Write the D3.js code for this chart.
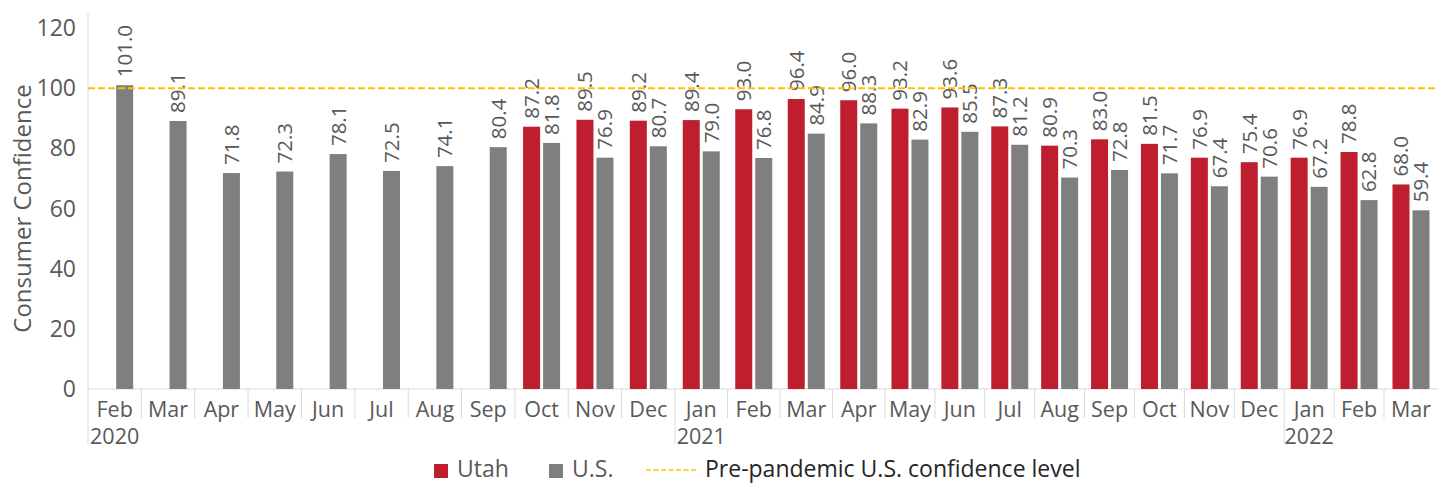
<!DOCTYPE html>
<html>
<head>
<meta charset="utf-8">
<script src="https://cdn.jsdelivr.net/npm/d3@7"></script>
<style>
  body { margin: 0; background: #fff; }
  text { font-family: "Open Sans", sans-serif; }
</style>
</head>
<body>
<div id="chart"></div>
<script>
const months = ["Feb","Mar","Apr","May","Jun","Jul","Aug","Sep","Oct","Nov","Dec",
                "Jan","Feb","Mar","Apr","May","Jun","Jul","Aug","Sep","Oct","Nov","Dec",
                "Jan","Feb","Mar"];
const years = [{i: 0, label: "2020"}, {i: 11, label: "2021"}, {i: 23, label: "2022"}];

const utah = [null, null, null, null, null, null, null, null,
              87.2, 89.5, 89.2, 89.4, 93.0, 96.4, 96.0, 93.2, 93.6, 87.3,
              80.9, 83.0, 81.5, 76.9, 75.4, 76.9, 78.8, 68.0];
const us = [101.0, 89.1, 71.8, 72.3, 78.1, 72.5, 74.1, 80.4, 81.8, 76.9, 80.7,
            79.0, 76.8, 84.9, 88.3, 82.9, 85.5, 81.2, 70.3, 72.8, 71.7, 67.4,
            70.6, 67.2, 62.8, 59.4];
const prePandemic = 100;
const yTicks = [0, 20, 40, 60, 80, 100, 120];

const width = 1448;
const height = 483;

const red = "#be1e2d";
const grey = "#7f7f7f";
const axisGrey = "#d9d9d9";
const textGrey = "#595959";

const svg = d3.select("#chart").append("svg")
  .attr("width", width).attr("height", height);

// category edges: the source chart's columns get a bit narrower towards the right
const x = d3.scaleLinear()
  .domain([0, 11, 15, 25, 26])
  .range([88, 675, 885, 1384, 1438]);
const mid = i => (x(i) + x(i + 1)) / 2;

const y = d3.scaleLinear().domain([0, 125]).range([389, 13]);

const barW = 17;

// y axis labels
svg.append("g").selectAll("text")
  .data(yTicks)
  .join("text")
  .attr("x", 76)
  .attr("y", d => y(d))
  .attr("dy", "0.35em")
  .attr("text-anchor", "end")
  .attr("fill", textGrey)
  .attr("font-size", 23)
  .text(d => d);

svg.append("text")
  .attr("transform", `translate(31, ${y(60)}) rotate(-90)`)
  .attr("text-anchor", "middle")
  .attr("fill", textGrey)
  .attr("font-size", 24)
  .text("Consumer Confidence");

// axis lines
svg.append("line")
  .attr("x1", x(0)).attr("x2", x(0))
  .attr("y1", y(125)).attr("y2", y(0))
  .attr("stroke", axisGrey);
svg.append("line")
  .attr("x1", x(0)).attr("x2", x(26))
  .attr("y1", y(0)).attr("y2", y(0))
  .attr("stroke", axisGrey);

// category separators, longer ones where a new year starts
const yearStarts = years.map(d => d.i);
svg.append("g").selectAll("line")
  .data(d3.range(0, 26))
  .join("line")
  .attr("x1", d => x(d)).attr("x2", d => x(d))
  .attr("y1", y(0))
  .attr("y2", d => yearStarts.includes(d) ? 444 : 418)
  .attr("stroke", axisGrey);

svg.append("g").selectAll("text")
  .data(months)
  .join("text")
  .attr("x", (d, i) => mid(i))
  .attr("y", 417)
  .attr("text-anchor", "middle")
  .attr("fill", textGrey)
  .attr("font-size", 21.5)
  .text(d => d);

svg.append("g").selectAll("text")
  .data(years)
  .join("text")
  .attr("x", d => mid(d.i))
  .attr("y", 444)
  .attr("text-anchor", "middle")
  .attr("fill", textGrey)
  .attr("font-size", 21.5)
  .text(d => d.label);

// bars
const rows = months.map((m, i) => ({i, utah: utah[i], us: us[i]}));

const series = [
  {key: "utah", color: red, offset: -10},
  {key: "us", color: grey, offset: 10}
];

series.forEach(s => {
  const pts = rows.filter(d => d[s.key] != null);
  const g = svg.append("g");
  g.selectAll("rect")
    .data(pts)
    .join("rect")
    .attr("x", d => mid(d.i) + s.offset - barW / 2)
    .attr("y", d => y(d[s.key]))
    .attr("width", barW)
    .attr("height", d => y(0) - y(d[s.key]))
    .attr("fill", s.color);

  g.selectAll("text")
    .data(pts)
    .join("text")
    .attr("transform", d => `translate(${mid(d.i) + s.offset}, ${y(d[s.key]) - 8}) rotate(-90)`)
    .attr("dy", "0.36em")
    .attr("fill", textGrey)
    .attr("font-size", 20.5)
    .text(d => d[s.key].toFixed(1));
});

// pre-pandemic reference line
svg.append("line")
  .attr("x1", x(0)).attr("x2", x(26))
  .attr("y1", y(prePandemic)).attr("y2", y(prePandemic))
  .attr("stroke", "#ffc000")
  .attr("stroke-width", 2)
  .attr("stroke-dasharray", "7,3");

// legend
const legend = svg.append("g");
legend.append("rect").attr("x", 434).attr("y", 464).attr("width", 14).attr("height", 14).attr("fill", red);
legend.append("text").attr("x", 457).attr("y", 477).attr("fill", textGrey).attr("font-size", 23).text("Utah");
legend.append("rect").attr("x", 549).attr("y", 464).attr("width", 14).attr("height", 14).attr("fill", grey);
legend.append("text").attr("x", 572).attr("y", 477).attr("fill", textGrey).attr("font-size", 23).text("U.S.");
legend.append("line")
  .attr("x1", 646).attr("x2", 698).attr("y1", 470).attr("y2", 470)
  .attr("stroke", "#ffc000").attr("stroke-width", 1.5).attr("stroke-dasharray", "5,2.5");
legend.append("text").attr("x", 705).attr("y", 477).attr("fill", "#262626").attr("font-size", 23)
  .text("Pre-pandemic U.S. confidence level");
</script>
</body>
</html>
